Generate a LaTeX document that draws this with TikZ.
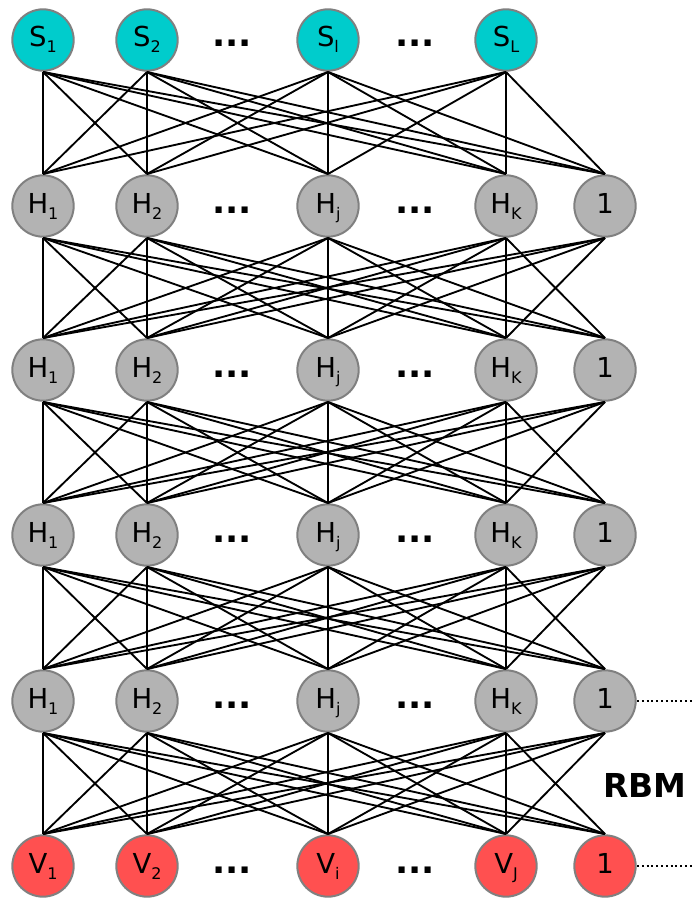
\documentclass[tikz,border=0pt]{standalone}
\usepackage{fontspec}
\setmainfont{DejaVu Sans}
\definecolor{topfill}{RGB}{0,204,204}
\definecolor{hidfill}{RGB}{179,179,179}
\definecolor{visfill}{RGB}{255,80,80}
\definecolor{ringcol}{RGB}{128,128,128}
% small lowered index after a unit letter
\newcommand\ix[1]{\raisebox{-4.5pt}{\fontsize{12pt}{14pt}\selectfont #1}}
\begin{document}
\begin{tikzpicture}[x=0.75pt,y=-0.75pt,
  unit/.style={circle, minimum size=46pt, inner sep=0pt, outer sep=1pt,
    draw=ringcol, line width=1.5pt, text height=15pt, text depth=4.5pt,
    font=\fontsize{20.6pt}{24pt}\selectfont},
  toplayer/.style={unit, fill=topfill},
  hidlayer/.style={unit, fill=hidfill},
  vislayer/.style={unit, fill=visfill},
  link/.style={line width=1.4pt, black},
  trail/.style={line width=1.6pt, dash pattern=on 1.5pt off 2.1pt},
  ellip/.style={anchor=base, font=\fontsize{26pt}{28pt}\bfseries\selectfont, inner sep=0pt}]
\useasboundingbox (0,0) rectangle (693,899);

% top layer
\foreach \c/\x/\t in {1/43/S\ix{1}, 2/147/S\ix{2}, 3/328/S\ix{l}, 4/506/S\ix{L}}
  \node[toplayer] (s\c) at (\x,40) {\t};
\node[ellip] (sd1) at (232,47) {...};
\node[ellip] (sd2) at (415,47) {...};

% hidden layers
\foreach \r/\y in {1/206, 2/370, 3/535, 4/701}{
  \foreach \c/\x/\t in {1/43/H\ix{1}, 2/147/H\ix{2}, 3/328/H\ix{j}, 4/506/H\ix{K}, 5/605/1}
    \node[hidlayer] (h\r c\c) at (\x,\y) {\t};
  \node[ellip] (hd\r a) at (232,\y+7) {...};
  \node[ellip] (hd\r b) at (415,\y+7) {...};
}

% visible layer
\foreach \c/\x/\t in {1/43/V\ix{1}, 2/147/V\ix{2}, 3/328/V\ix{i}, 4/506/V\ix{J}, 5/605/1}
  \node[vislayer] (v\c) at (\x,866) {\t};
\node[ellip] (vd1) at (232,873) {...};
\node[ellip] (vd2) at (415,873) {...};

% full connections between neighbouring layers (bias units not linked to each other)
\foreach \a in {1,...,4}
  \foreach \b in {1,...,5}
    \draw[link] (s\a.south) -- (h1c\b.north);
\foreach \r/\n in {1/2, 2/3, 3/4}
  \foreach \a in {1,...,5}
    \foreach \b in {1,...,5}{
      \ifnum\a\b=55\relax\else
        \draw[link] (h\r c\a.south) -- (h\n c\b.north);
      \fi
    }
\foreach \a in {1,...,5}
  \foreach \b in {1,...,5}{
    \ifnum\a\b=55\relax\else
      \draw[link] (h4c\a.south) -- (v\b.north);
    \fi
  }

% bias trails and label
\coordinate (tr1) at (693,701);
\coordinate (tr2) at (693,866);
\draw[trail] (h4c5.east) -- (tr1);
\draw[trail] (v5.east) -- (tr2);
\node[font=\fontsize{24.7pt}{28pt}\bfseries\selectfont] (rbm) at (645,785) {RBM};
\end{tikzpicture}
\end{document}
